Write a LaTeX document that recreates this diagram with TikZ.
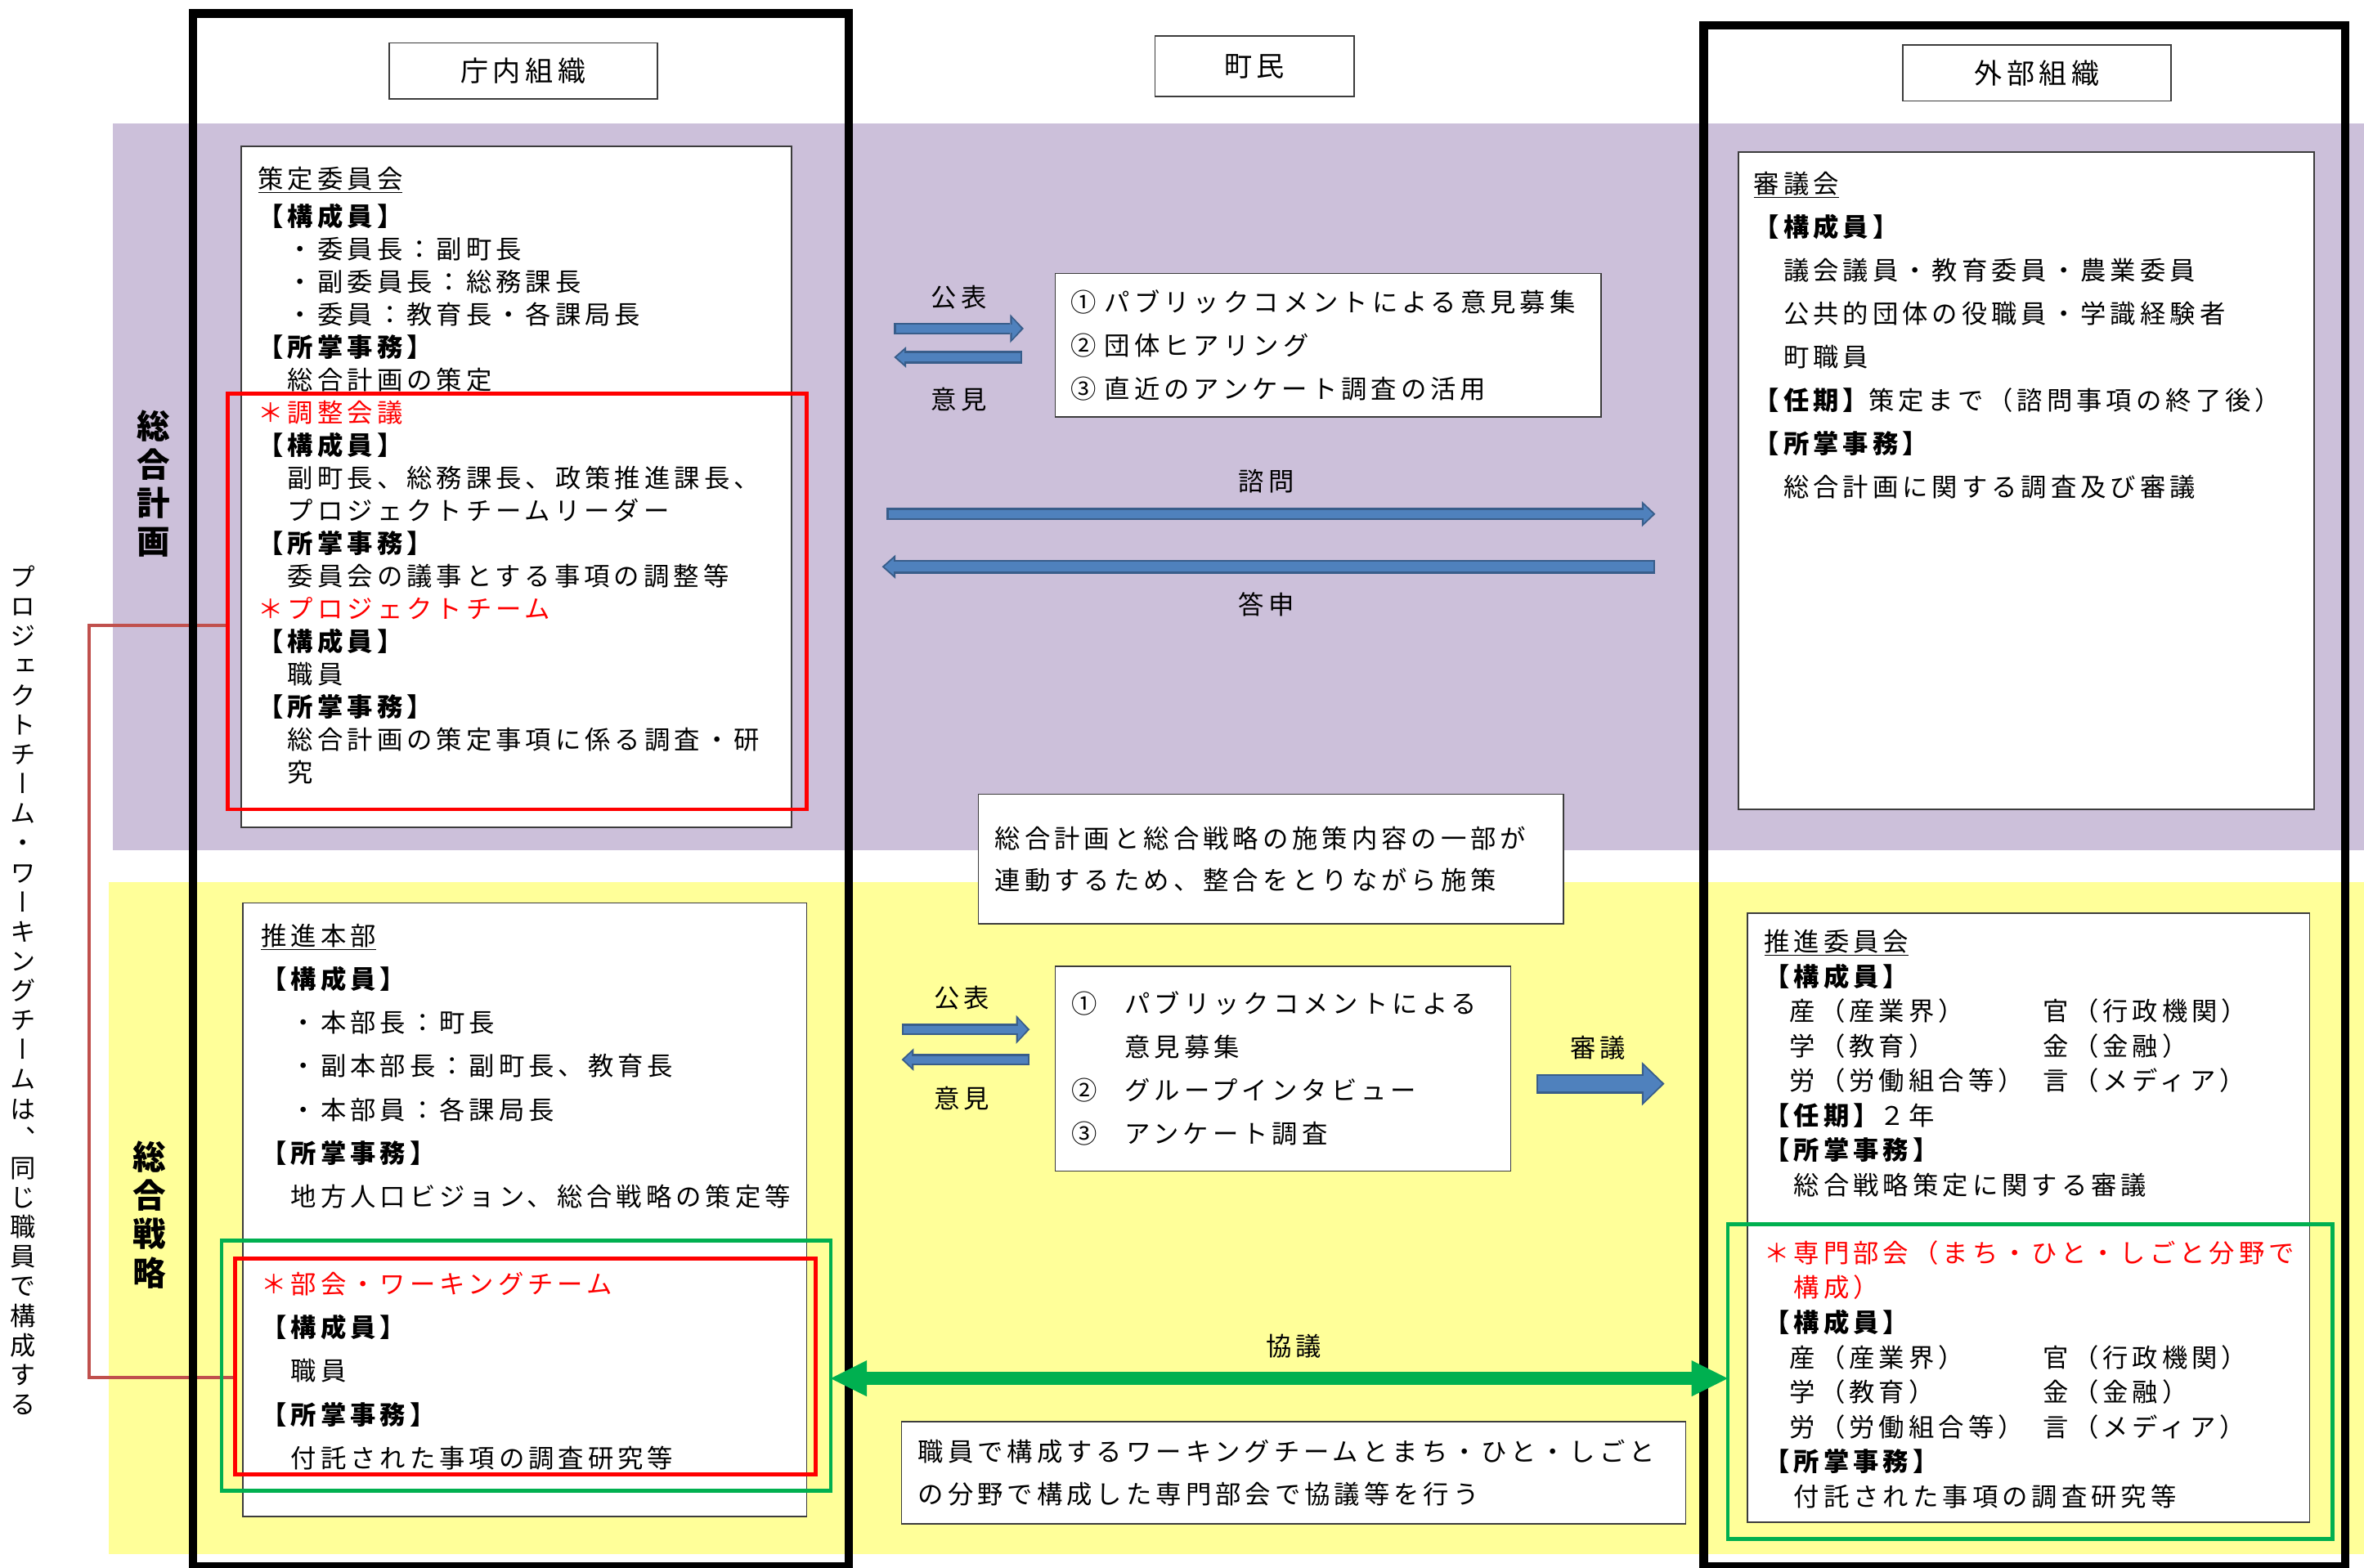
\documentclass[tikz,border=0pt]{standalone}
\usepackage{fontspec}
\setmainfont{Noto Sans CJK JP}[LetterSpace=16]
\newfontfamily\vertfont{Noto Sans CJK JP}[RawFeature=+vert]
\usepackage{tikz}
\usetikzlibrary{arrows.meta, calc}

\definecolor{planband}{RGB}{204,192,218}
\definecolor{stratband}{RGB}{255,255,153}
\definecolor{wgred}{RGB}{255,0,0}
\definecolor{wggreen}{RGB}{0,176,80}
\definecolor{pjline}{RGB}{192,80,77}
\definecolor{arrowedge}{RGB}{56,93,138}
\definecolor{arrowfill}{RGB}{79,129,189}
\definecolor{boxline}{RGB}{60,60,60}

\newcommand{\hd}[1]{{\bfseries 【#1】}}
\newcommand{\redtxt}[1]{\textcolor{wgred}{#1}}
\newcommand{\blockarrow}[5]{%
  \pgfmathsetmacro\arrIn{#3-2.6}%
  \pgfmathsetmacro\headIn{#4-5}%
  \pgfmathsetmacro\lenIn{#5-2.8}%
  \draw [draw=arrowedge, line width=#3pt, -{Triangle[width=#4pt, length=#5pt, line width=0pt]}] (#1) -- (#2);
  \draw [draw=arrowfill, line width=\arrIn pt, shorten <=1.3pt, shorten >=1.6pt, -{Triangle[width=\headIn pt, length=\lenIn pt, line width=0pt]}] (#1) -- (#2);
}

\tikzset{
  orgframe/.style={draw=black, line width=5.6pt},
  orgbox/.style={draw=boxline, fill=white, line width=0.9pt},
  hdrbox/.style={orgbox, inner sep=0, font=\fontsize{18.5}{20}\selectfont},
  infobox/.style={orgbox, align=left, inner sep=0, font=\fontsize{17}{28.6}\selectfont},
  txtblock/.style={anchor=north west, align=left, inner sep=0},
  lbl/.style={inner sep=0, font=\fontsize{17}{18}\selectfont},
  bandlbl/.style={inner sep=0, align=center, font=\bfseries\fontsize{22}{25.5}\selectfont},
  redframe/.style={draw=wgred, line width=2.6pt},
  greenframe/.style={draw=wggreen, line width=2.6pt}
}

\begin{document}
\begin{tikzpicture}[x=1pt, y=-1pt]
			\useasboundingbox (0,0) rectangle (1568,1040);

			% bands
			\fill [planband] (75,82) rectangle (1568,564);
			\fill [stratband] (72,585) rectangle (1568,1031);

			\node [bandlbl] (planLbl) at (102,321) {総\\合\\計\\画};
			\node [bandlbl] (stratLbl) at (99,806) {総\\合\\戦\\略};

			\node [inner sep=0, align=center, font=\vertfont\fontsize{17}{19.6}\selectfont] (pjNote) at (15.5,657)
				{プ\\ロ\\ジ\\ェ\\ク\\ト\\チ\\ー\\ム\\・\\ワ\\ー\\キ\\ン\\グ\\チ\\ー\\ム\\は\\、\\同\\じ\\職\\員\\で\\構\\成\\す\\る};

			\coordinate (pjTop) at (151,415);
			\coordinate (pjBot) at (156,914);
			\draw [pjline, line width=2pt] (pjTop) -- ++(-92,0) |- (pjBot);

			\draw [orgframe] (128,9) rectangle (563,1039);
			\draw [orgframe] (1130,17) rectangle (1555.5,1039);

			\node [hdrbox, minimum width=178, minimum height=37] (chonai) at (347,47) {庁内組織};
			\node [hdrbox, minimum width=132, minimum height=40] (chomin) at (832,44) {町民};
			\node [hdrbox, minimum width=178, minimum height=37] (gaibu) at (1351,48.5) {外部組織};

			\draw [orgbox] (160,97) rectangle (525,549);
			\draw [orgbox] (1153,101) rectangle (1535,537);
			\draw [orgbox] (161,599) rectangle (535,1006);
			\draw [orgbox] (1159,606) rectangle (1532,1010);

			\node [txtblock, font=\fontsize{17}{21.7}\selectfont] (sakuteiTxt) at (171,110.5) {%
				\underline{策定委員会}\\[3.3pt]
				\hd{構成員}\\
				　・委員長：副町長\\
				　・副委員長：総務課長\\
				　・委員：教育長・各課局長\\
				\hd{所掌事務}\\
				　総合計画の策定\\
				\redtxt{＊調整会議}\\
				\hd{構成員}\\
				　副町長、総務課長、政策推進課長、\\
				　プロジェクトチームリーダー\\
				\hd{所掌事務}\\
				　委員会の議事とする事項の調整等\\
				\redtxt{＊プロジェクトチーム}\\
				\hd{構成員}\\
				　職員\\
				\hd{所掌事務}\\
				　総合計画の策定事項に係る調査・研\\
				　究};

			\node [txtblock, font=\fontsize{17}{28.8}\selectfont] (shingikaiTxt) at (1163,113.5) {%
				\underline{審議会}\\
				\hd{構成員}\\
				　議会議員・教育委員・農業委員\\
				　公共的団体の役職員・学識経験者\\
				　町職員\\
				\hd{任期}策定まで（諮問事項の終了後）\\
				\hd{所掌事務}\\
				　総合計画に関する調査及び審議};

			\node [txtblock, font=\fontsize{17}{28.9}\selectfont] (honbuTxt) at (173,612.5) {%
				\underline{推進本部}\\
				\hd{構成員}\\
				　・本部長：町長\\
				　・副本部長：副町長、教育長\\
				　・本部員：各課局長\\
				\hd{所掌事務}\\
				　地方人口ビジョン、総合戦略の策定等\\[28.9pt]
				\redtxt{＊部会・ワーキングチーム}\\
				\hd{構成員}\\
				　職員\\
				\hd{所掌事務}\\
				　付託された事項の調査研究等};

			\node [txtblock, font=\fontsize{17}{23.1}\selectfont] (suishinTxt) at (1170,616.5) {%
				\underline{推進委員会}\\
				\hd{構成員}\\
				　\makebox[168pt][l]{産（産業界）}官（行政機関）\\
				　\makebox[168pt][l]{学（教育）}金（金融）\\
				　\makebox[168pt][l]{労（労働組合等）}言（メディア）\\
				\hd{任期}２年\\
				\hd{所掌事務}\\
				　総合戦略策定に関する審議\\[21.8pt]
				\redtxt{＊専門部会（まち・ひと・しごと分野で}\\
				\redtxt{　構成）}\\
				\hd{構成員}\\
				　\makebox[168pt][l]{産（産業界）}官（行政機関）\\
				　\makebox[168pt][l]{学（教育）}金（金融）\\
				　\makebox[168pt][l]{労（労働組合等）}言（メディア）\\
				\hd{所掌事務}\\
				　付託された事項の調査研究等};

			\draw [redframe] (151,261) rectangle (535,537);
			\draw [greenframe] (147,823) rectangle (551,989);
			\draw [redframe] (156,835) rectangle (541,978);
			\draw [greenframe] (1146,812) rectangle (1547,1021);

			\node [infobox, minimum width=362, minimum height=95, text width=342] (bosyuA) at (881,229)
				{①\ パブリックコメントによる意見募集\\②\ 団体ヒアリング\\③\ 直近のアンケート調査の活用};
			\node [infobox, minimum width=388, minimum height=86, text width=366, font=\fontsize{17}{28}\selectfont] (renkei) at (843,570)
				{総合計画と総合戦略の施策内容の一部が\\連動するため、整合をとりながら施策};
			\node [infobox, minimum width=302, minimum height=136, text width=280, font=\fontsize{17}{28.8}\selectfont] (bosyuB) at (851,709)
				{\makebox[35pt][l]{①}パブリックコメントによる\\\hspace*{35pt}意見募集\\\makebox[35pt][l]{②}グループインタビュー\\\makebox[35pt][l]{③}アンケート調査};
			\node [infobox, minimum width=520, minimum height=68, text width=498, font=\fontsize{17}{28}\selectfont] (kyogiTxt) at (858,977)
				{職員で構成するワーキングチームとまち・ひと・しごと\\の分野で構成した専門部会で協議等を行う};

			\node [lbl] (kohyoA) at (636,197) {公表};
			\node [lbl] (ikenA) at (636,265) {意見};
			\node [lbl] (shimon) at (840,319) {諮問};
			\node [lbl] (toshin) at (840,401) {答申};
			\node [lbl] (kohyoB) at (638,662) {公表};
			\node [lbl] (ikenB) at (638,729) {意見};
			\node [lbl] (shingi) at (1060,695) {審議};
			\node [lbl] (kyogi) at (858,893) {協議};

			\coordinate (pubA1) at (593,218);  \coordinate (pubA2) at (679,218);
			\coordinate (opA1) at (678,237);   \coordinate (opA2) at (593,237);
			\coordinate (shimonA1) at (588,341); \coordinate (shimonA2) at (1098,341);
			\coordinate (toshinA1) at (1098,376); \coordinate (toshinA2) at (585,376);
			\coordinate (pubB1) at (598,683);  \coordinate (pubB2) at (683,683);
			\coordinate (opB1) at (683,703);   \coordinate (opB2) at (598,703);
			\coordinate (shingiA1) at (1019,719); \coordinate (shingiA2) at (1104,719);

			\blockarrow{pubA1}{pubA2}{8}{19}{9}
			\blockarrow{opA1}{opA2}{8.5}{14}{8}
			\blockarrow{shimonA1}{shimonA2}{8.2}{17}{9}
			\blockarrow{toshinA1}{toshinA2}{9}{16}{9}
			\blockarrow{pubB1}{pubB2}{7.5}{19}{9}
			\blockarrow{opB1}{opB2}{7.5}{15}{8}
			\blockarrow{shingiA1}{shingiA2}{13}{29}{15}

			\coordinate (kyogiL) at (551,914.5);
			\coordinate (kyogiR) at (1146,914.5);
			\draw [wggreen, line width=9pt, {Triangle[width=24pt, length=24pt, line width=0pt]}-{Triangle[width=24pt, length=24pt, line width=0pt]}] (kyogiL) -- (kyogiR);

\end{tikzpicture}
\end{document}
